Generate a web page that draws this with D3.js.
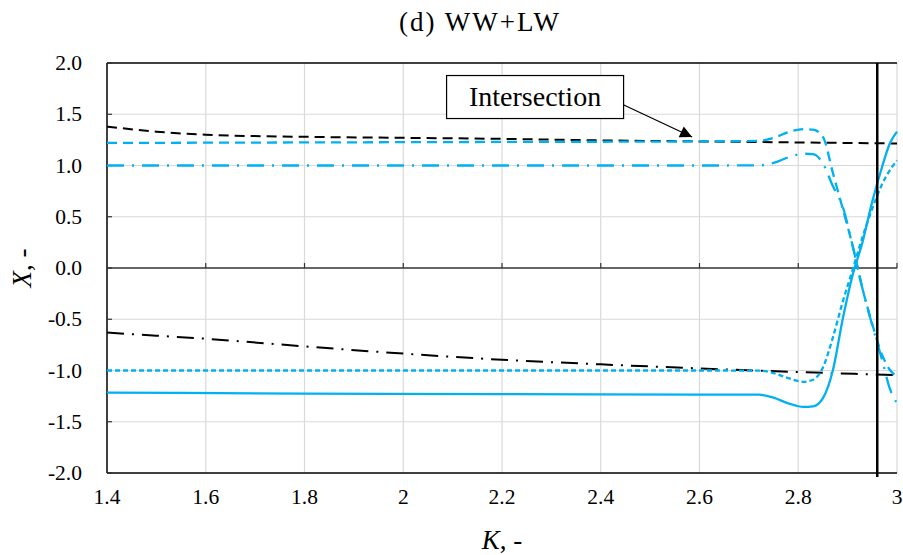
<!DOCTYPE html>
<html>
<head>
<meta charset="utf-8">
<script src="https://cdn.jsdelivr.net/npm/d3@7"></script>
<style>
  html, body { margin: 0; padding: 0; background: #fff; }
</style>
</head>
<body>
<svg id="chart" width="903" height="555"></svg>
<script>
// ---------------- data ----------------
const title = "(d) WW+LW";
const xTicks = [1.4, 1.6, 1.8, 2.0, 2.2, 2.4, 2.6, 2.8, 3.0];
const xTickLabels = ["1.4", "1.6", "1.8", "2", "2.2", "2.4", "2.6", "2.8", "3"];
const yTicks = [2.0, 1.5, 1.0, 0.5, 0.0, -0.5, -1.0, -1.5, -2.0];
const yTickLabels = ["2.0", "1.5", "1.0", "0.5", "0.0", "-0.5", "-1.0", "-1.5", "-2.0"];

// black curves
const kBlack = [1.4, 1.5, 1.6, 1.8, 2.0, 2.2, 2.4, 2.6, 2.8, 3.0];
const blackDashed = [1.38, 1.33, 1.30, 1.28, 1.27, 1.26, 1.245, 1.235, 1.225, 1.215];
const blackDashDot = [-0.63, -0.66, -0.69, -0.765, -0.835, -0.895, -0.94, -0.98, -1.015, -1.045];

// cyan curves
const kCyan = [1.4, 1.8, 2.2, 2.6, 2.72, 2.75, 2.78, 2.81, 2.83, 2.85, 2.87, 2.89, 2.91, 2.93, 2.95, 2.97, 2.985, 3.0];
const cyanSolid     = [-1.215, -1.225, -1.23, -1.235, -1.236, -1.265, -1.32, -1.355, -1.35, -1.27, -1.0, -0.5, -0.07, 0.25, 0.65, 0.99, 1.21, 1.33];
const cyanShortDash = [-1.0, -1.0, -1.0, -1.0, -1.001, -1.025, -1.075, -1.11, -1.09, -0.97, -0.68, -0.33, -0.02, 0.3, 0.58, 0.82, 0.95, 1.05];
const cyanDashed    = [1.22, 1.225, 1.23, 1.235, 1.24, 1.27, 1.325, 1.355, 1.35, 1.28, 0.93, 0.58, 0.22, -0.2, -0.55, -0.85, -0.99, -1.06];
const cyanDashDot   = [1.0, 1.0, 1.0, 1.0, 1.001, 1.025, 1.08, 1.115, 1.11, 1.02, 0.80, 0.6, 0.22, -0.2, -0.56, -0.9, -1.17, -1.32];

const markerK = 2.96;
const annotation = { text: "Intersection", boxK: 2.267, boxX: 1.668, tipK: 2.585, tipX: 1.278 };

// ---------------- layout ----------------
const FONT = "Liberation Serif";
const svg = d3.select("#chart");
const L = 107, R = 897, T = 63, B = 473;
const x = d3.scaleLinear().domain([1.4, 3.0]).range([L, R]);
const y = d3.scaleLinear().domain([-2, 2]).range([B, T]);
const cyan = "#00B0F0";
const grid = "#d9d9d9";

// gridlines
svg.append("g").selectAll("line").data(xTicks.slice(1)).join("line")
  .attr("x1", d => x(d)).attr("x2", d => x(d)).attr("y1", T).attr("y2", B)
  .attr("stroke", grid).attr("stroke-width", 1.2);
svg.append("g").selectAll("line").data(yTicks.filter(d => d !== 0 && d !== 2 && d !== -2)).join("line")
  .attr("x1", L).attr("x2", R).attr("y1", d => y(d)).attr("y2", d => y(d))
  .attr("stroke", grid).attr("stroke-width", 1.2);

// frame
svg.append("line").attr("x1", L).attr("x2", R).attr("y1", y(2)).attr("y2", y(2)).attr("stroke", "#000").attr("stroke-width", 1.5);
svg.append("line").attr("x1", L).attr("x2", R).attr("y1", y(-2)).attr("y2", y(-2)).attr("stroke", "#000").attr("stroke-width", 1.5);
svg.append("line").attr("x1", L).attr("x2", L).attr("y1", T).attr("y2", B).attr("stroke", "#000").attr("stroke-width", 1.5);
// zero line (x axis)
svg.append("line").attr("x1", L).attr("x2", R).attr("y1", y(0)).attr("y2", y(0)).attr("stroke", "#333").attr("stroke-width", 1.3);
svg.append("g").selectAll("line").data(xTicks.slice(1)).join("line")
  .attr("x1", d => x(d)).attr("x2", d => x(d)).attr("y1", y(0)).attr("y2", y(0) - 5)
  .attr("stroke", "#333").attr("stroke-width", 1.2);
// left ticks
svg.append("g").selectAll("line").data(yTicks).join("line")
  .attr("x1", L).attr("x2", L + 5).attr("y1", d => y(d)).attr("y2", d => y(d))
  .attr("stroke", "#333").attr("stroke-width", 1.2);

// tick labels
svg.append("g").selectAll("text").data(yTicks).join("text")
  .attr("font-family", FONT)
  .attr("x", 82).attr("y", d => y(d) + 7)
  .attr("text-anchor", "end").attr("font-size", 21.5)
  .text((d, i) => yTickLabels[i]);
svg.append("g").selectAll("text").data(xTicks).join("text")
  .attr("font-family", FONT)
  .attr("x", d => x(d)).attr("y", 504)
  .attr("text-anchor", "middle").attr("font-size", 21.5)
  .text((d, i) => xTickLabels[i]);

// axis titles
const xt = svg.append("text").attr("font-family", FONT).attr("x", 502).attr("y", 549).attr("text-anchor", "middle").attr("font-size", 27);
xt.append("tspan").attr("font-style", "italic").text("K");
xt.append("tspan").text(", -");
const yt = svg.append("text").attr("font-family", FONT).attr("transform", "translate(31,268) rotate(-90)").attr("text-anchor", "middle").attr("font-size", 27);
yt.append("tspan").attr("font-style", "italic").text("X");
yt.append("tspan").text(", -");

// title
svg.append("text").attr("font-family", FONT).attr("x", 480).attr("y", 31).attr("text-anchor", "middle")
  .attr("font-size", 27).attr("letter-spacing", 2).text(title);

// curves
const line = (ks) => d3.line().x((d, i) => x(ks[i])).y(d => y(d)).curve(d3.curveMonotoneX);
const curves = [
  { k: kBlack, v: blackDashed, color: "#000", dash: "10,6", w: 2 },
  { k: kBlack, v: blackDashDot, color: "#000", dash: "17,8,2,8", w: 2 },
  { k: kCyan, v: cyanDashed, color: cyan, dash: "10,6", w: 2.3 },
  { k: kCyan, v: cyanDashDot, color: cyan, dash: "17,8,2,8", w: 2.3 },
  { k: kCyan, v: cyanShortDash, color: cyan, dash: "5,3", w: 2.3 },
  { k: kCyan, v: cyanSolid, color: cyan, dash: null, w: 2.3 }
];
const cg = svg.append("g");
curves.forEach(c => {
  cg.append("path").datum(c.v)
    .attr("d", line(c.k))
    .attr("fill", "none").attr("stroke", c.color).attr("stroke-width", c.w)
    .attr("stroke-dasharray", c.dash);
});

// vertical marker
svg.append("line").attr("x1", x(markerK)).attr("x2", x(markerK)).attr("y1", T).attr("y2", B + 4)
  .attr("stroke", "#000").attr("stroke-width", 2.5);

// annotation
const defs = svg.append("defs");
defs.append("marker").attr("id", "arrow").attr("viewBox", "0 0 10 10")
  .attr("refX", 10).attr("refY", 5).attr("markerWidth", 14).attr("markerHeight", 12)
  .attr("markerUnits", "userSpaceOnUse").attr("orient", "auto")
  .append("path").attr("d", "M0,0 L10,5 L0,10 Z").attr("fill", "#000");
const bx = x(annotation.boxK), by = y(annotation.boxX);
const bw = 177, bh = 43;
svg.append("line").attr("x1", bx + bw / 2 - 4).attr("y1", by + 6)
  .attr("x2", x(annotation.tipK)).attr("y2", y(annotation.tipX))
  .attr("stroke", "#000").attr("stroke-width", 1.2).attr("marker-end", "url(#arrow)");
svg.append("rect").attr("x", bx - bw / 2).attr("y", by - bh / 2).attr("width", bw).attr("height", bh)
  .attr("fill", "#fff").attr("stroke", "#000").attr("stroke-width", 1.2);
svg.append("text").attr("font-family", FONT).attr("x", bx).attr("y", by + 9).attr("text-anchor", "middle").attr("font-size", 28)
  .text(annotation.text);
</script>
</body>
</html>
